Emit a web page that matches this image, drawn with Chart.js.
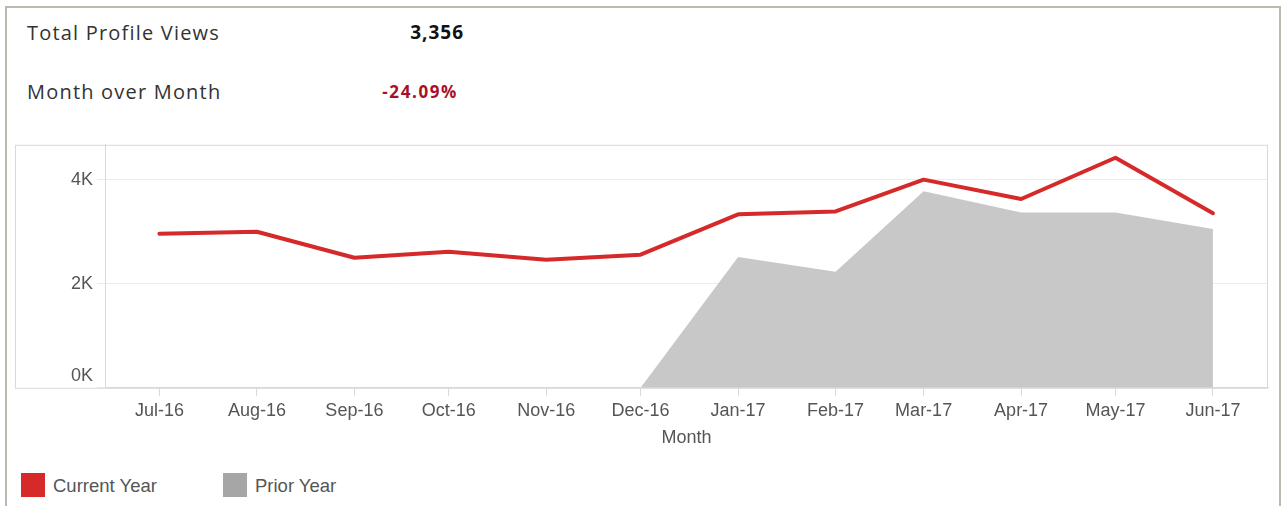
<!DOCTYPE html>
<html>
<head>
<meta charset="utf-8">
<script src="https://cdn.jsdelivr.net/npm/chart.js@4.4.0/dist/chart.umd.min.js"></script>
<style>
  body { margin: 0; background: #fff; width: 1282px; height: 506px; overflow: hidden; position: relative; }
  .frame { position: absolute; left: 5px; top: 6px; width: 1272px; height: 520px; border: 2px solid #bcb9ad; border-bottom: none; }
  .kpi { position: absolute; font-family: "Open Sans", sans-serif; font-size: 20px; letter-spacing: 1.2px; color: #333; }
  .num { position: absolute; font-family: "Open Sans", sans-serif; font-weight: 700; text-align: right; }
  #chartBox { position: absolute; left: 15px; top: 130px; width: 1256px; height: 323px; }
  .legend { position: absolute; font-family: "Liberation Sans", Arial, sans-serif; font-size: 18.5px; color: #555; }
  .swatch { position: absolute; width: 24px; height: 24px; }
</style>
</head>
<body>
<div class="frame"></div>
<div class="kpi" style="left:27px; top:19px;">Total Profile Views</div>
<div class="num" style="right:818px; top:19px; font-size:19px; letter-spacing:1px; color:#111;">3,356</div>
<div class="kpi" style="left:27px; top:78px;">Month over Month</div>
<div class="num" style="right:824px; top:80px; font-size:17px; letter-spacing:1.6px; color:#a8102a;">-24.09%</div>

<div id="chartBox"><canvas id="chart"></canvas></div>

<div class="swatch" style="left:21px; top:473px; background:#d62a2a;"></div>
<div class="legend" style="left:53px; top:475px;">Current Year</div>
<div class="swatch" style="left:223px; top:473px; background:#a6a6a6;"></div>
<div class="legend" style="left:255px; top:475px;">Prior Year</div>

<script>
// months on the x axis
const months = ['Jul-16', 'Aug-16', 'Sep-16', 'Oct-16', 'Nov-16', 'Dec-16',
  'Jan-17', 'Feb-17', 'Mar-17', 'Apr-17', 'May-17', 'Jun-17'];
const currentYear = [2962, 3000, 2500, 2615, 2460, 2558, 3333, 3390, 4000, 3628, 4421, 3356];
const priorYear = [null, null, null, null, null, 0, 2513, 2230, 3775, 3371, 3371, 3050];
const yTicks = [0, 2000, 4000];

const monthNames = ['Jan', 'Feb', 'Mar', 'Apr', 'May', 'Jun', 'Jul', 'Aug', 'Sep', 'Oct', 'Nov', 'Dec'];
const DAY = 86400000;
const start = Date.UTC(2016, 6, 1);

// day offset of each month start, so spacing follows the calendar
const toDays = label => {
  const [m, yy] = label.split('-');
  return (Date.UTC(2000 + Number(yy), monthNames.indexOf(m), 1) - start) / DAY;
};
const xVals = months.map(toDays);

const toPoints = values => values.map((v, i) => ({ x: xVals[i], y: v }));

const axisFont = { family: '"Liberation Sans", Arial, sans-serif', size: 18 };
const textColor = '#555';

const plotBox = {
  id: 'plotBox',
  afterDraw(chart) {
    const { ctx, chartArea } = chart;
    const yScale = chart.scales.y;
    ctx.save();
    ctx.strokeStyle = '#d9d9d9';
    ctx.lineWidth = 1;
    ctx.strokeRect(yScale.left + 0.5, chartArea.top + 0.5,
      chartArea.right - yScale.left - 1, chartArea.bottom - chartArea.top);
    // zero label sits above its tick
    ctx.fillStyle = textColor;
    ctx.font = '18px "Liberation Sans", Arial, sans-serif';
    ctx.textAlign = 'right';
    ctx.textBaseline = 'middle';
    ctx.fillText('0K', yScale.right - 12, yScale.getPixelForValue(0) - 12);
    ctx.restore();
  }
};

const chartRef = document.getElementById('chart').getContext('2d');
new Chart(chartRef, {
  type: 'line',
  data: {
    datasets: [
      {
        label: 'Current Year',
        data: toPoints(currentYear),
        borderColor: '#d62a2a',
        borderWidth: 4,
        borderJoinStyle: 'round',
        borderCapStyle: 'round',
        pointRadius: 0,
        fill: false,
        tension: 0,
      },
      {
        label: 'Prior Year',
        data: toPoints(priorYear),
        borderColor: 'rgba(0,0,0,0)',
        borderWidth: 0,
        backgroundColor: '#c8c8c8',
        pointRadius: 0,
        fill: 'origin',
        spanGaps: false,
        tension: 0,
      },
    ],
  },
  options: {
    responsive: true,
    maintainAspectRatio: false,
    animation: false,
    layout: { padding: { top: 5, right: 3, left: 0, bottom: 0 } },
    plugins: { legend: { display: false }, tooltip: { enabled: false } },
    scales: {
      x: {
        type: 'linear',
        min: -17.3,
        max: 352.5,
        afterBuildTicks: scale => {
          scale.ticks = xVals.map(v => ({ value: v }));
        },
        ticks: {
          autoSkip: false,
          maxRotation: 0,
          padding: 4.5,
          color: textColor,
          font: axisFont,
          callback: (value, index) => months[index],
        },
        grid: { drawOnChartArea: false, drawTicks: true, tickLength: 8, color: '#d9d9d9' },
        border: { color: '#d9d9d9' },
        title: {
          display: true,
          text: 'Month',
          color: textColor,
          font: axisFont,
          padding: { top: 1, bottom: 4 },
        },
      },
      y: {
        min: 0,
        max: 4670,
        afterBuildTicks: scale => {
          scale.ticks = yTicks.map(v => ({ value: v }));
        },
        afterFit: scale => {
          scale.width = 90;
        },
        ticks: {
          padding: 4,
          color: textColor,
          font: axisFont,
          callback: value => (value === 0 ? '' : value / 1000 + 'K'),
        },
        grid: { color: '#ececec', drawTicks: true, tickLength: 8 },
        border: { color: '#d9d9d9' },
      },
    },
  },
  plugins: [plotBox],
});
</script>
</body>
</html>
